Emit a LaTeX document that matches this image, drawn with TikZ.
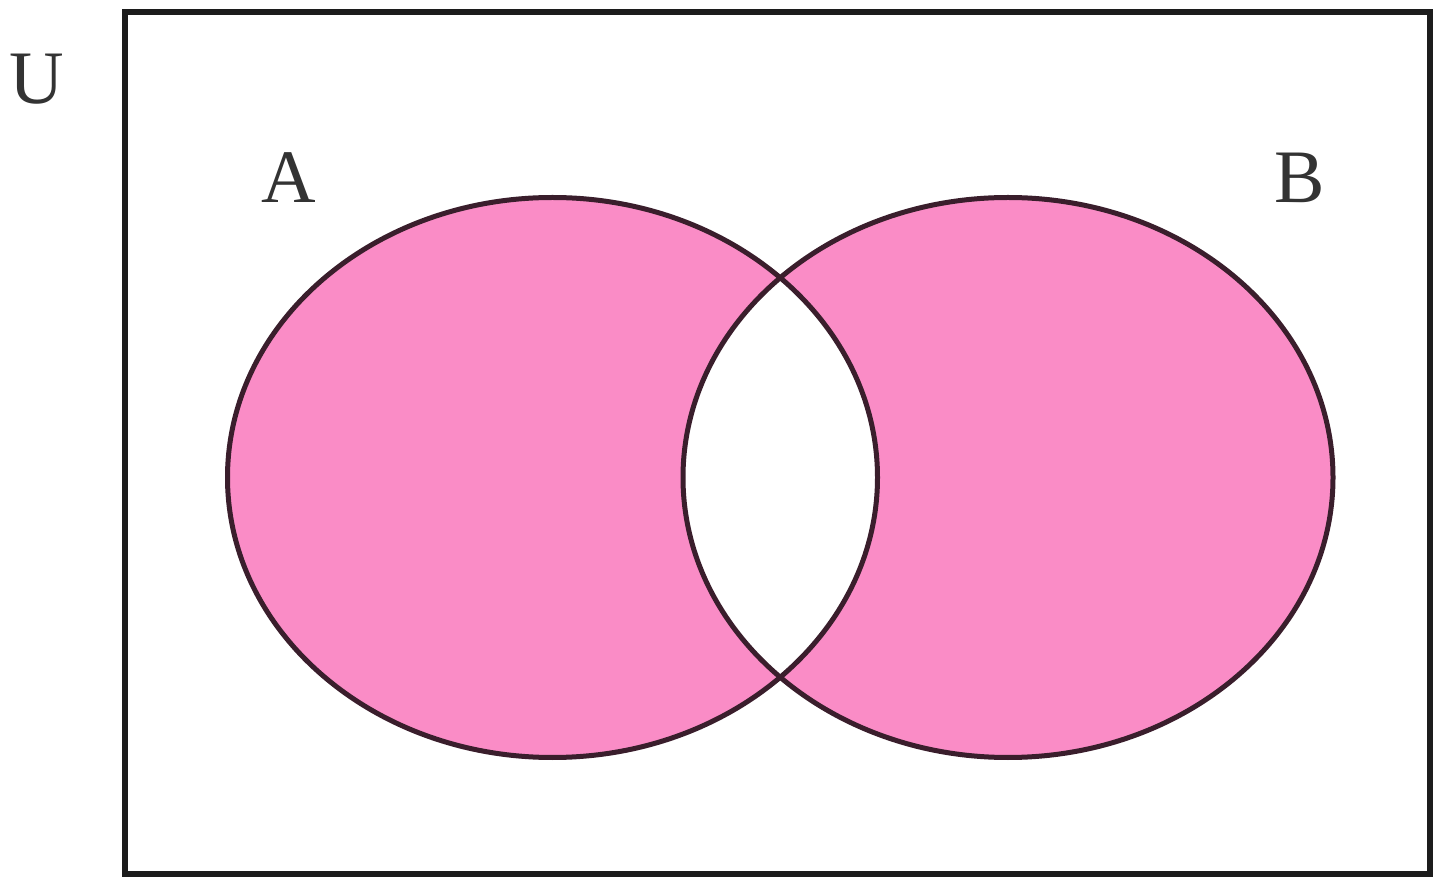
\documentclass[tikz,border=0pt]{standalone}
\usepackage{fontspec}
\setmainfont{Liberation Serif}
\definecolor{vpink}{HTML}{FA8CC6}
\definecolor{vline}{HTML}{3A1E2C}
\definecolor{vframe}{HTML}{1C1C1C}
\begin{document}
\begin{tikzpicture}[x=0.02cm,y=-0.02cm,
  lbl/.style={font=\fontsize{43}{47}\selectfont, text=black!80, inner sep=0pt},
  setline/.style={draw=vline, line width=0.1cm}]
\useasboundingbox (0,0) rectangle (1434,881);
\fill[white] (0,0) rectangle (1434,881);
% universe frame
\draw[vframe, line width=0.11cm] (125,12) rectangle (1430,874);
% symmetric difference fill
\fill[vpink, even odd rule] (552.5,477.5) ellipse [x radius=325, y radius=280]
                            (1008,477.5) ellipse [x radius=325, y radius=280];
\draw[setline] (552.5,477.5) ellipse [x radius=325, y radius=280];
\draw[setline] (1008,477.5) ellipse [x radius=325, y radius=280];
% labels
\node[lbl] (U) at (37,79) {U};
\node[lbl] (A) at (289,178) {A};
\node[lbl] (B) at (1300,178) {B};
\end{tikzpicture}
\end{document}
